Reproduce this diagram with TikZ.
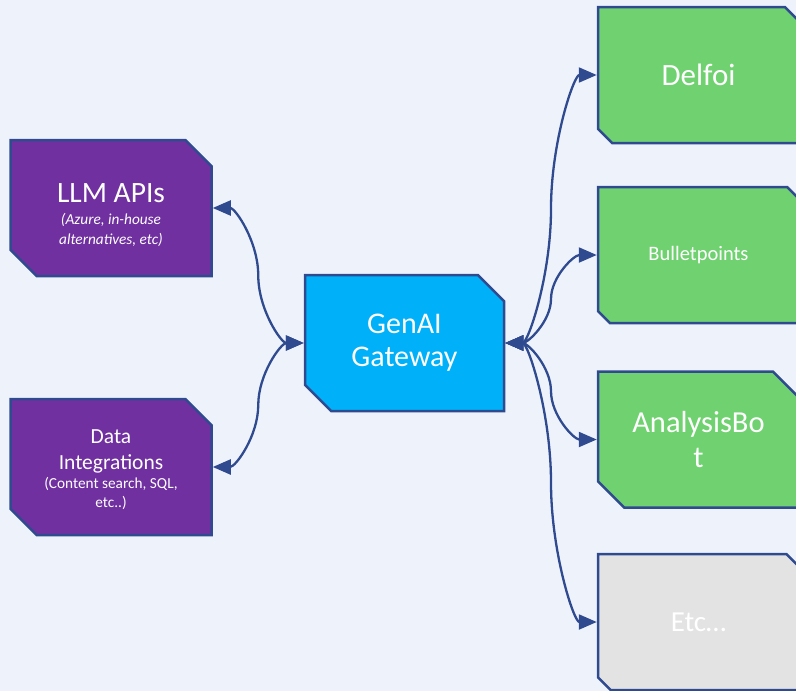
\documentclass[tikz,border=0pt]{standalone}
\usepackage{fontspec}
\setmainfont{Carlito}
\usetikzlibrary{shapes.misc,arrows.meta,calc}

\definecolor{bgpale}{HTML}{EEF3FB}
\definecolor{edgeblue}{HTML}{2F4A8F}
\definecolor{srcpurple}{HTML}{7030A0}
\definecolor{gwblue}{HTML}{00B0F8}
\definecolor{appgreen}{HTML}{6FD16F}
\definecolor{todogray}{HTML}{E3E3E3}

\tikzset{
  snipbox/.style={chamfered rectangle,
    chamfered rectangle corners={north east,south west},
    chamfered rectangle xsep=23pt,
    draw=edgeblue, line width=2.5pt, text=white, align=center,
    minimum width=201pt, minimum height=136pt, inner sep=0pt},
  link/.style={edgeblue, line width=2.3pt,
    {Triangle[length=18pt,width=15pt]}-{Triangle[length=18pt,width=15pt]}},
  % 两段贝塞尔的弯曲连线
  bend3/.style={to path={let \p1=(\tikztostart), \p2=(\tikztotarget) in
    .. controls ({0.75*\x1+0.25*\x2},\y1) and ({0.5*\x1+0.5*\x2},{0.75*\y1+0.25*\y2})
    .. ({0.5*\x1+0.5*\x2},{0.5*\y1+0.5*\y2})
    .. controls ({0.5*\x1+0.5*\x2},{0.25*\y1+0.75*\y2}) and ({0.25*\x1+0.75*\x2},\y2)
    .. (\tikztotarget)}}
}
\newcommand{\bigline}[2]{{\fontsize{#1}{#1}\selectfont #2}}

\begin{document}
\begin{tikzpicture}[x=1pt,y=-1pt]

% 背景
\fill[bgpale] (0,0) rectangle (796,691);
\useasboundingbox (0,0) rectangle (796,691);

% 左侧：数据来源
\node[snipbox, fill=srcpurple, font=\fontsize{15.3}{20}\selectfont] (llm) at (111,208)
  {\rule{0pt}{34pt}\bigline{29.5}{LLM APIs}\\[2pt]
   \itshape (Azure, in-house\\ \itshape alternatives, etc)};
\node[snipbox, fill=srcpurple, font=\fontsize{15.3}{19}\selectfont] (data) at (111,467)
  {\rule{0pt}{20pt}\bigline{21.5}{Data}\\[7pt]
   \bigline{21.5}{Integrations}\\ (Content search, SQL,\\ etc..)};

% 中间：网关
\node[snipbox, fill=gwblue, minimum width=199pt,
  font=\fontsize{30}{33}\selectfont] (gw) at (404.5,343) {GenAI\\ Gateway};

% 右侧：应用
\node[snipbox, fill=appgreen, font=\fontsize{31}{35}\selectfont]
  (delfoi) at (698.5,75) {Delfoi};
\node[snipbox, fill=appgreen, font=\fontsize{20.5}{24}\selectfont]
  (bullet) at (698.5,255) {Bulletpoints};
\node[snipbox, fill=appgreen, font=\fontsize{30.5}{35}\selectfont]
  (abot) at (698.5,439.5) {AnalysisBo\\ t};
\node[snipbox, fill=todogray, font=\fontsize{29}{35}\selectfont]
  (etc) at (698.5,622) {Etc\ldots};

% 连线（两端箭头）
\draw[link] (llm.east) to[bend3] (gw.west);
\draw[link] (data.east) to[bend3] (gw.west);
\draw[link] (gw.east) to[bend3] (delfoi.west);
\draw[link] (gw.east) to[bend3] (bullet.west);
\draw[link] (gw.east) to[bend3] (abot.west);
\draw[link] (gw.east) to[bend3] (etc.west);

\end{tikzpicture}
\end{document}
